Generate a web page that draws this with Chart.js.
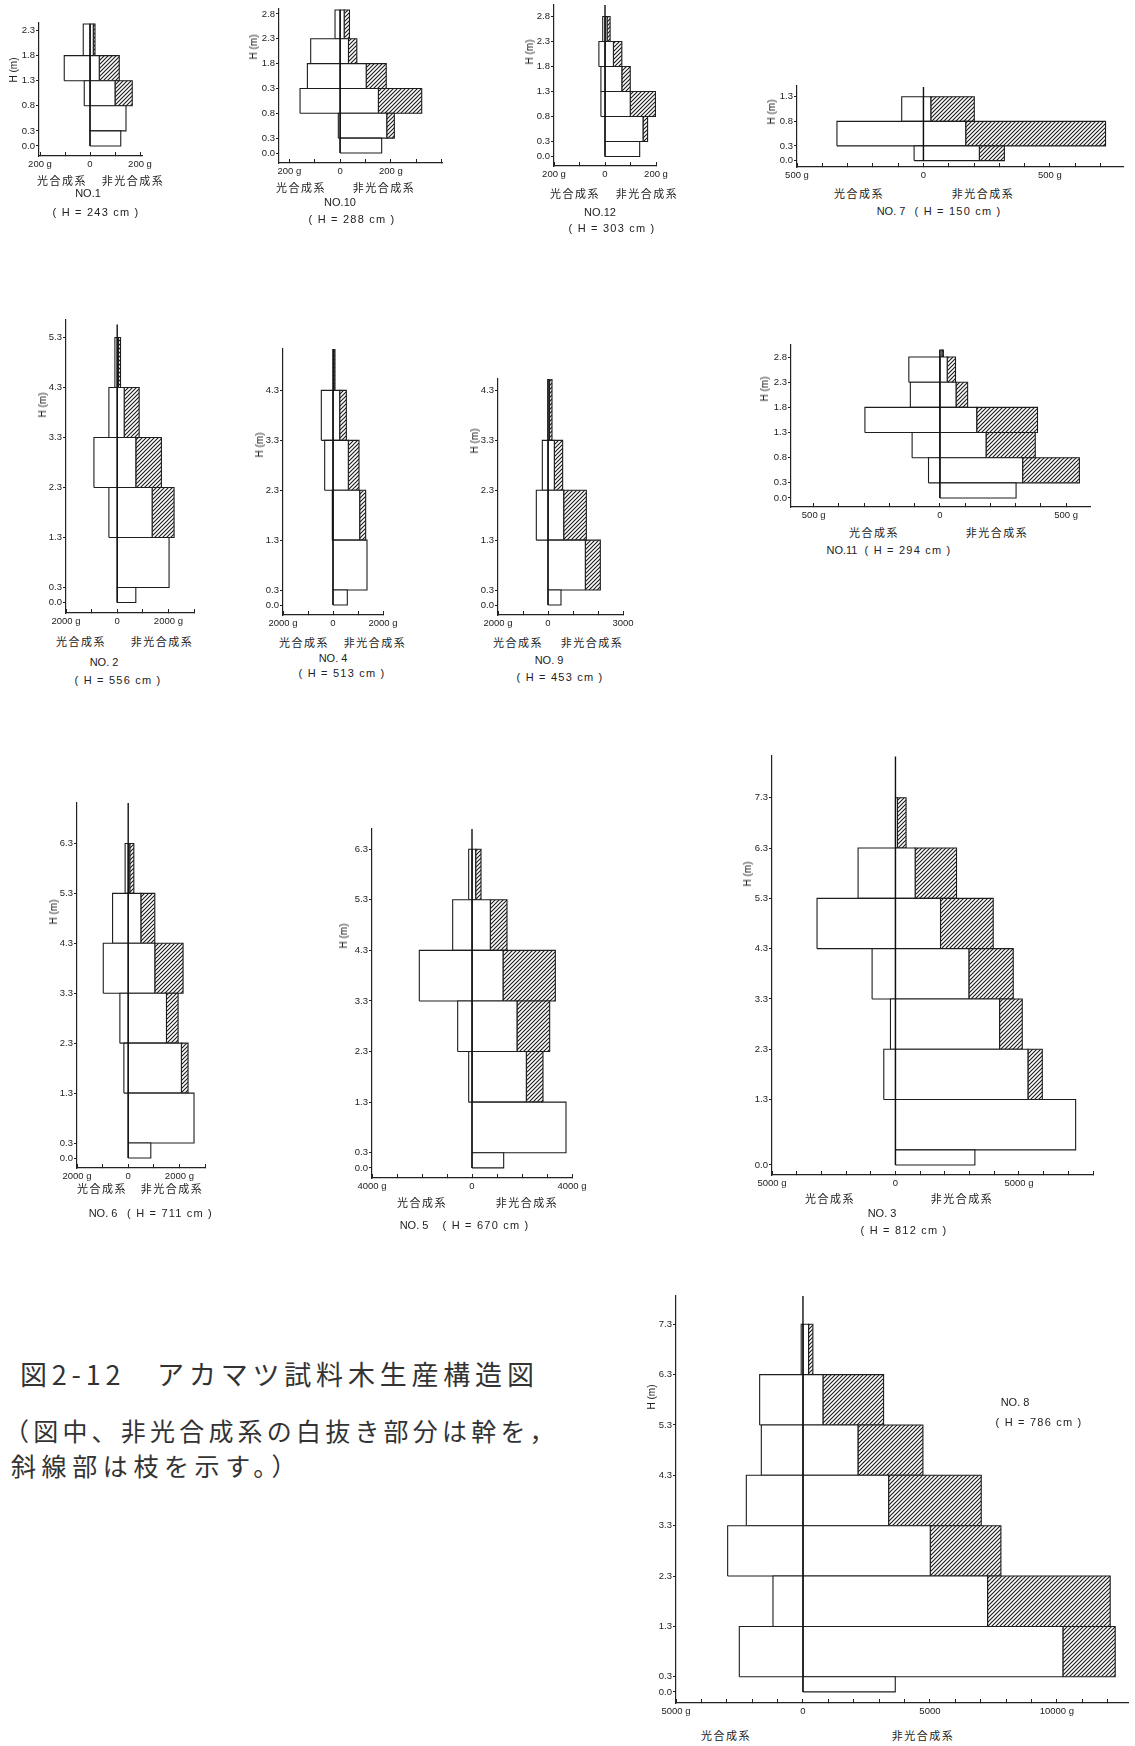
<!DOCTYPE html>
<html><head><meta charset="utf-8">
<script src="https://cdn.jsdelivr.net/npm/chart.js@4.4.0/dist/chart.umd.min.js"></script>
<style>
html,body{margin:0;padding:0;background:#fff;}
body{width:1135px;height:1746px;position:relative;overflow:hidden;font-family:"Liberation Sans",sans-serif;color:#222;}
canvas{position:absolute;}
.t{position:absolute;white-space:nowrap;line-height:1;transform:translate(-50%,-50%);font-size:11px;}
.ht{letter-spacing:1.2px;}
.jp{font-family:"Noto Sans CJK JP",sans-serif;font-size:11px;letter-spacing:1.5px;}
.hm{transform:translate(-50%,-50%) rotate(-90deg);font-size:10px;}
.cap{position:absolute;white-space:nowrap;font-family:"Noto Sans CJK JP",sans-serif;line-height:1;transform:translateY(-50%);color:#333;}
</style></head><body>
<script>
// ---------- DATA (g per layer; heights in m) ----------
// NO.1
const no1Heights=[0.0,0.3,0.8,1.3,1.8,2.43];
const no1Leaf=[0,0,23,103,27];
const no1Stem=[123,144,100,37,13];
const no1Branch=[0,0,69,80,7];
const no1Top=2.43;
const no1YTicks=[0.0,0.3,0.8,1.3,1.8,2.3];
const no1YLabels=["0.0","0.3","0.8","1.3","1.8","2.3"];
const no1XTicks=[-200,-100,0,100,200];
const no1XLabels=["200 g","","0","","200 g"];
// NO.10
const no10Heights=[0.0,0.3,0.8,1.3,1.8,2.3,2.88];
const no10Leaf=[0,7,158,129,116,20];
const no10Stem=[164,184,151,103,33,16];
const no10Branch=[0,30,171,79,33,21];
const no10Top=2.88;
const no10YTicks=[0.0,0.3,0.8,1.3,1.8,2.3,2.8];
const no10YLabels=["0.0","0.3","0.8","0.3","1.8","2.3","2.8"];
const no10XTicks=[-200,-100,0,100,200,300,400];
const no10XLabels=["200 g","","0","","200 g","",""];
// NO.12
const no12Heights=[0.0,0.3,0.8,1.3,1.8,2.3,2.8];
const no12Leaf=[0,0,16,16,24,9];
const no12Stem=[136,149,99,66,33,8];
const no12Branch=[0,18,99,33,33,12];
const no12Top=3.03;
const no12YTicks=[0.0,0.3,0.8,1.3,1.8,2.3,2.8];
const no12YLabels=["0.0","0.3","0.8","1.3","1.8","2.3","2.8"];
const no12XTicks=[-200,-100,0,100,200];
const no12XLabels=["200 g","","0","","200 g"];
// NO.7
const no7Heights=[0.0,0.3,0.8,1.3];
const no7Leaf=[37,342,86];
const no7Stem=[221,167,29];
const no7Branch=[99,553,172];
const no7Top=1.50;
const no7YTicks=[0.0,0.3,0.8,1.3];
const no7YLabels=["0.0","0.3","0.8","1.3"];
const no7XTicks=[-500,-400,-300,-200,-100,0,100,200,300,400,500,600,700];
const no7XLabels=["500 g","","","","","0","","","","","500 g","",""];
// NO.2
const no2Heights=[0.0,0.3,1.3,2.3,3.3,4.3,5.3];
const no2Leaf=[0,0,325,909,325,90];
const no2Stem=[727,2026,1364,727,273,50];
const no2Branch=[0,0,857,1000,584,80];
const no2Top=5.56;
const no2YTicks=[0.0,0.3,1.3,2.3,3.3,4.3,5.3];
const no2YLabels=["0.0","0.3","1.3","2.3","3.3","4.3","5.3"];
const no2XTicks=[-2000,-1000,0,1000,2000,3000];
const no2XLabels=["2000 g","","0","","2000 g",""];
// NO.4
const no4Heights=[0.0,0.3,1.3,2.3,3.3,4.3,5.13];
const no4Leaf=[0,0,27,333,467,0];
const no4Stem=[573,1360,1067,613,267,30];
const no4Branch=[0,0,240,427,267,50];
const no4Top=5.13;
const no4YTicks=[0.0,0.3,1.3,2.3,3.3,4.3];
const no4YLabels=["0.0","0.3","1.3","2.3","3.3","4.3"];
const no4XTicks=[-2000,-1000,0,1000,2000];
const no4XLabels=["2000 g","","0","","2000 g"];
// NO.9
const no9Heights=[0.0,0.3,1.3,2.3,3.3,4.53];
const no9Leaf=[0,0,467,227,0];
const no9Stem=[520,1493,627,253,60];
const no9Branch=[0,600,907,333,100];
const no9Top=4.53;
const no9YTicks=[0.0,0.3,1.3,2.3,3.3,4.3];
const no9YLabels=["0.0","0.3","1.3","2.3","3.3","4.3"];
const no9XTicks=[-2000,-1000,0,1000,2000,3000];
const no9XLabels=["2000 g","","0","","","3000"];
// NO.11
const no11Heights=[0.0,0.3,0.8,1.3,1.8,2.3,2.8,2.94];
const no11Leaf=[0,45,110,297,117,123,0];
const no11Stem=[302,328,183,146,64,29,8];
const no11Branch=[0,225,195,241,46,33,6];
const no11Top=2.94;
const no11YTicks=[0.0,0.3,0.8,1.3,1.8,2.3,2.8];
const no11YLabels=["0.0","0.3","0.8","1.3","1.8","2.3","2.8"];
const no11XTicks=[-500,-400,-300,-200,-100,0,100,200,300,400,500];
const no11XLabels=["500 g","","","","","0","","","","","500 g"];
// NO.6
const no6Heights=[0.0,0.3,1.3,2.3,3.3,4.3,5.3,6.3];
const no6Leaf=[0,0,169,325,974,610,120];
const no6Stem=[883,2571,2078,1494,1039,494,60];
const no6Branch=[0,0,260,455,1104,545,160];
const no6Top=7.11;
const no6YTicks=[0.0,0.3,1.3,2.3,3.3,4.3,5.3,6.3];
const no6YLabels=["0.0","0.3","1.3","2.3","3.3","4.3","5.3","6.3"];
const no6XTicks=[-2000,-1000,0,1000,2000,3000];
const no6XLabels=["2000 g","","0","","2000 g",""];
// NO.5
const no5Heights=[0.0,0.3,1.3,2.3,3.3,4.3,5.3,6.3];
const no5Leaf=[0,0,133,573,2107,773,133];
const no5Stem=[1267,3760,2173,1800,1240,733,147];
const no5Branch=[0,0,667,1307,2093,667,213];
const no5Top=6.70;
const no5YTicks=[0.0,0.3,1.3,2.3,3.3,4.3,5.3,6.3];
const no5YLabels=["0.0","0.3","1.3","2.3","3.3","4.3","5.3","6.3"];
const no5XTicks=[-4000,-3000,-2000,-1000,0,1000,2000,3000,4000];
const no5XLabels=["4000 g","","","","0","","","","4000 g"];
// NO.3
const no3Heights=[0.0,0.3,1.3,2.3,3.3,4.3,5.3,6.3,7.3];
const no3Leaf=[0,0,473,203,946,3176,1514,0];
const no3Stem=[3216,7297,5365,4216,2973,1824,797,80];
const no3Branch=[0,0,581,919,1797,2135,1676,350];
const no3Top=8.12;
const no3YTicks=[0.0,1.3,2.3,3.3,4.3,5.3,6.3,7.3];
const no3YLabels=["0.0","1.3","2.3","3.3","4.3","5.3","6.3","7.3"];
const no3XTicks=[-5000,-4000,-3000,-2000,-1000,0,1000,2000,3000,4000,5000,6000,7000,8000];
const no3XLabels=["5000 g","","","","","0","","","","","5000 g","","",""];
// NO.8
const no8Heights=[0.0,0.3,1.3,2.3,3.3,4.3,5.3,6.3,7.3];
const no8Leaf=[0,2507,1181,2966,2231,1640,1706,70];
const no8Stem=[3635,10236,7270,5013,3373,2165,787,220];
const no8Branch=[0,2060,4829,2782,3648,2559,2388,170];
const no8Top=7.86;
const no8YTicks=[0.0,0.3,1.3,2.3,3.3,4.3,5.3,6.3,7.3];
const no8YLabels=["0.0","0.3","1.3","2.3","3.3","4.3","5.3","6.3","7.3"];
const no8XTicks=[-5000,-4000,-3000,-2000,-1000,0,1000,2000,3000,4000,5000,6000,7000,8000,9000,10000,11000,12000];
const no8XLabels=["5000 g","","","","","0","","","","","5000","","","","","10000 g","",""];

const labPhoto="光合成系", labNon="非光合成系", labH="H (m)";
const captionLines=["図2-12　アカマツ試料木生産構造図","（図中、非光合成系の白抜き部分は幹を，","斜線部は枝を示す。）"];

// ---------- PANELS (data refs) ----------
const panels=[
 {name:"NO.1",h:no1Heights,l:no1Leaf,s:no1Stem,b:no1Branch,top:no1Top,yt:no1YTicks,yl:no1YLabels,xt:no1XTicks,xl:no1XLabels},
 {name:"NO.10",h:no10Heights,l:no10Leaf,s:no10Stem,b:no10Branch,top:no10Top,yt:no10YTicks,yl:no10YLabels,xt:no10XTicks,xl:no10XLabels},
 {name:"NO.12",h:no12Heights,l:no12Leaf,s:no12Stem,b:no12Branch,top:no12Top,yt:no12YTicks,yl:no12YLabels,xt:no12XTicks,xl:no12XLabels},
 {name:"NO. 7",h:no7Heights,l:no7Leaf,s:no7Stem,b:no7Branch,top:no7Top,yt:no7YTicks,yl:no7YLabels,xt:no7XTicks,xl:no7XLabels},
 {name:"NO. 2",h:no2Heights,l:no2Leaf,s:no2Stem,b:no2Branch,top:no2Top,yt:no2YTicks,yl:no2YLabels,xt:no2XTicks,xl:no2XLabels},
 {name:"NO. 4",h:no4Heights,l:no4Leaf,s:no4Stem,b:no4Branch,top:no4Top,yt:no4YTicks,yl:no4YLabels,xt:no4XTicks,xl:no4XLabels},
 {name:"NO. 9",h:no9Heights,l:no9Leaf,s:no9Stem,b:no9Branch,top:no9Top,yt:no9YTicks,yl:no9YLabels,xt:no9XTicks,xl:no9XLabels},
 {name:"NO.11",h:no11Heights,l:no11Leaf,s:no11Stem,b:no11Branch,top:no11Top,yt:no11YTicks,yl:no11YLabels,xt:no11XTicks,xl:no11XLabels},
 {name:"NO. 6",h:no6Heights,l:no6Leaf,s:no6Stem,b:no6Branch,top:no6Top,yt:no6YTicks,yl:no6YLabels,xt:no6XTicks,xl:no6XLabels},
 {name:"NO. 5",h:no5Heights,l:no5Leaf,s:no5Stem,b:no5Branch,top:no5Top,yt:no5YTicks,yl:no5YLabels,xt:no5XTicks,xl:no5XLabels},
 {name:"NO. 3",h:no3Heights,l:no3Leaf,s:no3Stem,b:no3Branch,top:no3Top,yt:no3YTicks,yl:no3YLabels,xt:no3XTicks,xl:no3XLabels},
 {name:"NO. 8",h:no8Heights,l:no8Leaf,s:no8Stem,b:no8Branch,top:no8Top,yt:no8YTicks,yl:no8YLabels,xt:no8XTicks,xl:no8XLabels}
];

// ---------- LAYOUT (pixels / scale ranges) ----------
// x0,y0: pixel of value 0 ; kx: px per g ; ky: px per m
const LAYOUT=[
 {x0:90,kx:0.25,y0:146,ky:50,xmin:-204,xmax:208,ymin:-0.2,ymax:2.45, hm:[14,70], lp:[62,180], ln:[133,180], nm:[88,193], ht:[96,212]},
 {x0:340,kx:0.253,y0:153,ky:49.5,xmin:-241,xmax:402,ymin:-0.2,ymax:2.9, hm:[254,47], lp:[301,187], ln:[384,187], nm:[340,202], ht:[352,219]},
 {x0:605,kx:0.253,y0:156.3,ky:50,xmin:-200,xmax:200,ymin:-0.19,ymax:3.03, hm:[530,52], lp:[575,193], ln:[647,193], nm:[600,212], ht:[612,228]},
 {x0:923.3,kx:0.253,y0:161,ky:49.5,xmin:-500,xmax:789,ymin:-0.13,ymax:1.52, hm:[772,112], lp:[859,193], ln:[983,193], nm:[891,211], ht:[958,211]},
 {x0:117.3,kx:0.0256,y0:602.7,ky:50,xmin:-2000,xmax:3000,ymin:-0.21,ymax:5.65, hm:[43,405], lp:[81,641], ln:[162,641], nm:[104,662], ht:[118,680]},
 {x0:333.3,kx:0.025,y0:605,ky:50,xmin:-2000,xmax:2000,ymin:-0.2,ymax:5.13, hm:[260,445], lp:[304,642], ln:[375,642], nm:[333,658], ht:[342,673]},
 {x0:547.7,kx:0.025,y0:605,ky:50,xmin:-2000,xmax:3000,ymin:-0.2,ymax:4.53, hm:[475,441], lp:[518,642], ln:[592,642], nm:[549,660], ht:[560,677]},
 {x0:940,kx:0.252,y0:498.3,ky:50.5,xmin:-590,xmax:595,ymin:-0.18,ymax:3.04, hm:[765,389], lp:[874,532], ln:[997,532], nm:[842,550], ht:[908,550]},
 {x0:128.3,kx:0.0256,y0:1158.3,ky:50,xmin:-2000,xmax:3000,ymin:-0.2,ymax:7.11, hm:[54,912], lp:[102,1188], ln:[172,1188], nm:[103,1213], ht:[170,1213]},
 {x0:471.7,kx:0.025,y0:1167.7,ky:50.5,xmin:-4000,xmax:4000,ymin:-0.2,ymax:6.7, hm:[344,936], lp:[422,1202], ln:[527,1202], nm:[414,1225], ht:[486,1225]},
 {x0:895,kx:0.0247,y0:1165,ky:50.3,xmin:-5000,xmax:8000,ymin:-0.2,ymax:8.13, hm:[748,874], lp:[830,1198], ln:[962,1198], nm:[882,1213], ht:[904,1230]},
 {x0:802.7,kx:0.0254,y0:1692.3,ky:50.4,xmin:-5000,xmax:12800,ymin:-0.22,ymax:7.86, hm:[652,1397], lp:[726,1735], ln:[923,1735], nm:[1015,1402], ht:[1039,1422]}
];

Chart.defaults.font.family='"Liberation Sans", sans-serif';
Chart.defaults.font.size=9.5;
Chart.defaults.color='#222';

function makeHatch(){
  const n=4;
  const c=document.createElement('canvas'); c.width=n; c.height=n;
  const g=c.getContext('2d');
  g.fillStyle='#fff'; g.fillRect(0,0,n,n);
  g.strokeStyle='#1e1e1e'; g.lineWidth=1.15;
  g.beginPath();
  g.moveTo(0,n); g.lineTo(n,0);
  g.moveTo(-1,1); g.lineTo(1,-1);
  g.moveTo(n-1,n+1); g.lineTo(n+1,n-1);
  g.stroke();
  return g.createPattern(c,'repeat');
}
const HATCH=makeHatch();

function rect(a,b,y0,y1,fill){
  return {data:[{x:a,y:y0},{x:b,y:y0},{x:b,y:y1},{x:a,y:y1},{x:a,y:y0}],
    fill:'shape', backgroundColor:fill, borderColor:'#1e1e1e', borderWidth:1.1,
    pointRadius:0, tension:0};
}

function txt(s,x,y,cls){
  const d=document.createElement('div'); d.className='t '+(cls||'');
  d.textContent=s; d.style.left=x+'px'; d.style.top=y+'px';
  document.body.appendChild(d);
}

const AW=24, AH=16, PT=6, PR=24;
panels.forEach((p,k)=>{
  const lay=LAYOUT[k];
  const L=Math.round(lay.x0+lay.xmin*lay.kx), R=Math.round(lay.x0+lay.xmax*lay.kx);
  const T=Math.round(lay.y0-lay.ymax*lay.ky), B=Math.round(lay.y0-lay.ymin*lay.ky);
  const W=AW+(R-L)+PR, H=PT+(B-T)+AH;
  const cv=document.createElement('canvas');
  cv.width=W; cv.height=H;
  cv.style.width=W+'px'; cv.style.height=H+'px';
  cv.style.left=(L-AW)+'px'; cv.style.top=(T-PT)+'px';
  document.body.appendChild(cv);

  const ds=[{data:[{x:0,y:0},{x:0,y:p.top}],borderColor:'#111',borderWidth:1.4,pointRadius:0,fill:false}];
  for(let i=0;i<p.s.length;i++){
    const y0=p.h[i], y1=p.h[i+1];
    if(p.l[i]>0) ds.push(rect(-p.l[i],0,y0,y1,'#fff'));
    if(p.s[i]>0) ds.push(rect(0,p.s[i],y0,y1,'#fff'));
    if(p.b[i]>0) ds.push(rect(p.s[i],p.s[i]+p.b[i],y0,y1,HATCH));
  }
  const borderOpt={display:true,color:'#222',width:1.2};
  new Chart(cv,{type:'line',data:{datasets:ds},options:{
    responsive:false,animation:false,devicePixelRatio:1,events:[],
    layout:{padding:{top:PT,right:PR,left:0,bottom:0}},
    plugins:{legend:{display:false},tooltip:{enabled:false}},
    scales:{
      x:{type:'linear',min:lay.xmin,max:lay.xmax,bounds:'data',
        afterBuildTicks:s=>{s.ticks=p.xt.map(v=>({value:v}));},
        afterFit:s=>{s.height=AH;s.paddingLeft=0;s.paddingRight=0;},
        ticks:{autoSkip:false,maxRotation:0,minRotation:0,padding:7,callback:(v,i)=>p.xl[i]},
        grid:{display:true,drawOnChartArea:false,drawTicks:true,tickLength:-4,color:'#222',lineWidth:1},
        border:borderOpt},
      y:{type:'linear',min:lay.ymin,max:lay.ymax,bounds:'data',
        afterBuildTicks:s=>{s.ticks=p.yt.map(v=>({value:v}));},
        afterFit:s=>{s.width=AW;s.paddingTop=0;s.paddingBottom=0;},
        ticks:{autoSkip:false,padding:1,callback:(v,i)=>p.yl[i]},
        grid:{display:true,drawOnChartArea:false,drawTicks:true,tickLength:3,color:'#222',lineWidth:1},
        border:borderOpt}
    }}});

  txt(labH,lay.hm[0],lay.hm[1],'hm');
  txt(labPhoto,lay.lp[0],lay.lp[1],'jp');
  txt(labNon,lay.ln[0],lay.ln[1],'jp');
  txt(p.name,lay.nm[0],lay.nm[1]);
  txt('( H = '+Math.round(p.top*100)+' cm )',lay.ht[0],lay.ht[1],'ht');
});

// caption
const capPos=[[20,1373,27,4.8],[4,1430,25,4.2],[11,1465,25,5.6]];
captionLines.forEach((s,i)=>{
  const d=document.createElement('div'); d.className='cap'; d.textContent=s;
  d.style.left=capPos[i][0]+'px'; d.style.top=capPos[i][1]+'px';
  d.style.fontSize=capPos[i][2]+'px'; d.style.letterSpacing=capPos[i][3]+'px';
  document.body.appendChild(d);
});
</script>
</body></html>
